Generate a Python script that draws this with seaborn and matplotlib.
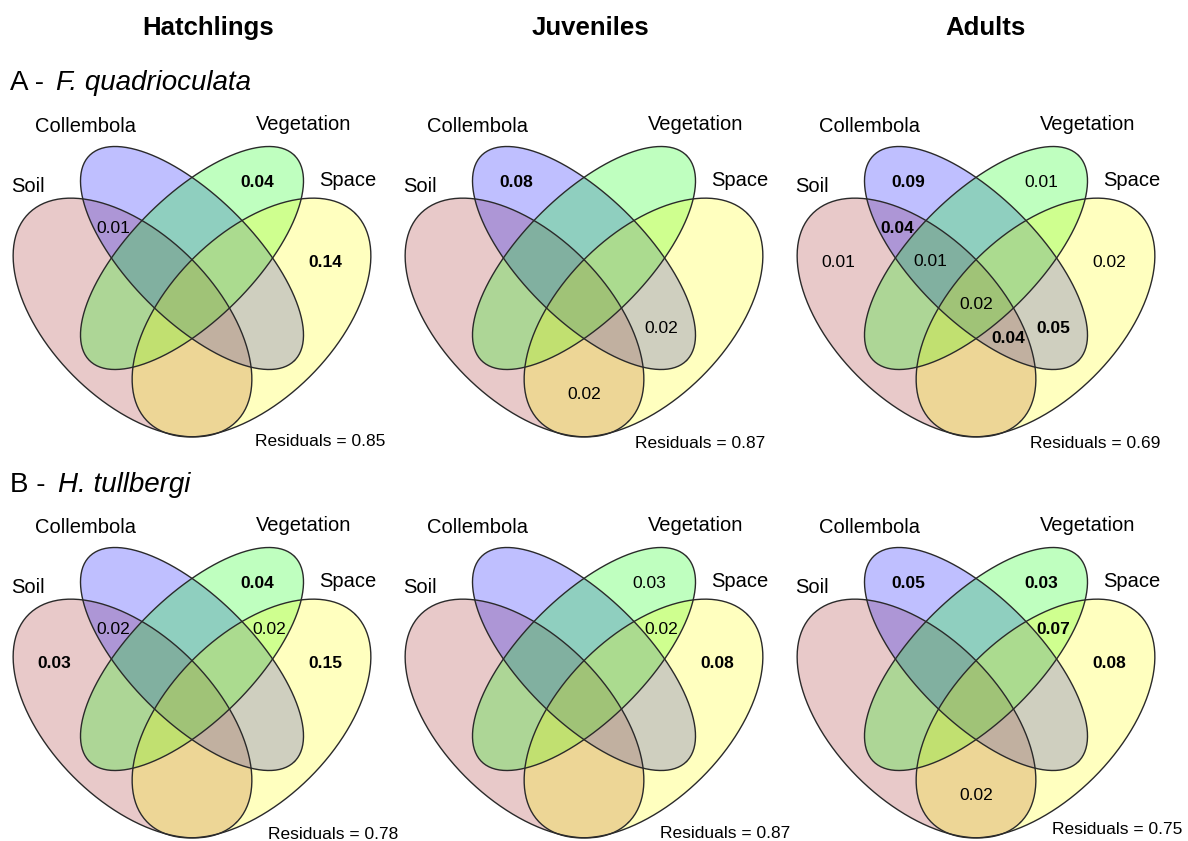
import numpy as np
import pandas as pd
import matplotlib
matplotlib.use("Agg")
import matplotlib.pyplot as plt
import seaborn as sns

# ---------------------------------------------------------------- data
age_groups = ["Hatchlings", "Juveniles", "Adults"]
row_tags = ["A", "B"]
species = ["F. quadrioculata", "H. tullbergi"]

set_names = ["Soil", "Collembola", "Vegetation", "Space"]
set_colors = ["#A52A2A", "#0000FF", "#00FF00", "#FFFF00"]

# variation-partitioning fractions, in a fixed order
fractions = ["Soil", "Collembola", "Vegetation", "Space",
             "Soil+Collembola", "Vegetation+Space",
             "Soil+Collembola+Vegetation", "Soil+Collembola+Vegetation+Space",
             "Collembola+Space", "Soil+Collembola+Space", "Soil+Space"]

# adjusted R2 of each fraction (None = not displayed); *_sig marks significant ones (bold)
fq_hatchlings = [None, None, 0.04, 0.14, 0.01, None, None, None, None, None, None]
fq_hatchlings_sig = [0, 0, 1, 1, 0, 0, 0, 0, 0, 0, 0]
fq_juveniles = [None, 0.08, None, None, None, None, None, None, 0.02, None, 0.02]
fq_juveniles_sig = [0, 1, 0, 0, 0, 0, 0, 0, 0, 0, 0]
fq_adults = [0.01, 0.09, 0.01, 0.02, 0.04, None, 0.01, 0.02, 0.05, 0.04, None]
fq_adults_sig = [0, 1, 0, 0, 1, 0, 0, 0, 1, 1, 0]

ht_hatchlings = [0.03, None, 0.04, 0.15, 0.02, 0.02, None, None, None, None, None]
ht_hatchlings_sig = [1, 0, 1, 1, 0, 0, 0, 0, 0, 0, 0]
ht_juveniles = [None, None, 0.03, 0.08, None, 0.02, None, None, None, None, None]
ht_juveniles_sig = [0, 0, 0, 1, 0, 0, 0, 0, 0, 0, 0]
ht_adults = [None, 0.05, 0.03, 0.08, None, 0.07, None, None, None, None, 0.02]
ht_adults_sig = [0, 1, 1, 1, 0, 1, 0, 0, 0, 0, 0]

residuals_fq = [0.85, 0.87, 0.69]
residuals_ht = [0.78, 0.87, 0.75]

panel_values = [[fq_hatchlings, fq_juveniles, fq_adults],
                [ht_hatchlings, ht_juveniles, ht_adults]]
panel_sig = [[fq_hatchlings_sig, fq_juveniles_sig, fq_adults_sig],
             [ht_hatchlings_sig, ht_juveniles_sig, ht_adults_sig]]
panel_resid = [residuals_fq, residuals_ht]

# ---------------------------------------------------------------- layout
FONT = "Liberation Sans"
sns.set_theme(style="white")
plt.rcParams["font.family"] = [FONT, "DejaVu Sans"]

W, H = 1188, 841
fig = plt.figure(figsize=(W / 100, H / 100), dpi=100)
ax = fig.add_axes([0, 0, 1, 1])

col_off = [0, 392, 784]
row_off = [0, 401]
axis_x = 192.0

# ellipse geometry in panel coordinates: (cx, cy, semi-major, semi-minor, angle)
ellipses = {
    "Soil":       (axis_x - 59.5, 317.5, 147.0, 83.0, 45.0),
    "Collembola": (axis_x, 258.0, 145.0, 62.0, 45.0),
    "Vegetation": (axis_x, 258.0, 145.0, 62.0, -45.0),
    "Space":      (axis_x + 59.5, 317.5, 147.0, 83.0, -45.0),
}

# where each fraction's value is written
frac_pos = {
    "Soil": (54, 261), "Collembola": (124, 181), "Vegetation": (257, 181),
    "Space": (325, 261), "Soil+Collembola": (113, 227),
    "Vegetation+Space": (269, 227), "Soil+Collembola+Vegetation": (146, 260),
    "Soil+Collembola+Vegetation+Space": (192, 303), "Collembola+Space": (269, 327),
    "Soil+Collembola+Space": (224, 337), "Soil+Space": (192, 393),
}

set_label_pos = {"Soil": (28, 192), "Collembola": (86, 132),
                 "Vegetation": (304, 130), "Space": (348, 186)}

# right edge / baseline of the residual text in each panel
resid_pos = [[(385, 446), (373, 448), (376, 448)],
             [(398, 438), (398, 437), (398, 433)]]


def ellipse_xy(cx, cy, a, b, ang, n=240):
    t = np.linspace(0, 2 * np.pi, n)
    p = np.deg2rad(ang)
    x = cx + a * np.cos(t) * np.cos(p) - b * np.sin(t) * np.sin(p)
    y = cy + a * np.cos(t) * np.sin(p) + b * np.sin(t) * np.cos(p)
    return x, y


for r in range(2):
    for c in range(3):
        ox, oy = col_off[c], row_off[r]
        outlines = []
        for name, col in zip(set_names, set_colors):
            cx, cy, a, b, ang = ellipses[name]
            x, y = ellipse_xy(cx + ox, cy + oy, a, b, ang)
            ax.fill(x, y, color=col, alpha=0.25, lw=0, zorder=1)
            outlines.append(pd.DataFrame({"x": x, "y": y, "set": name}))
        for df in outlines:
            sns.lineplot(data=df, x="x", y="y", sort=False, estimator=None,
                         color="#2a2a2a", linewidth=1.0, ax=ax, zorder=3,
                         legend=False)

        for name in set_names:
            lx, ly = set_label_pos[name]
            ax.text(lx + ox, ly + oy, name, ha="center", va="baseline",
                    fontsize=14.5, color="black", zorder=5)

        vals = panel_values[r][c]
        sig = panel_sig[r][c]
        for frac, v, s in zip(fractions, vals, sig):
            if v is None:
                continue
            fx, fy = frac_pos[frac]
            ax.text(fx + ox, fy + oy + 6, f"{v:.2f}", ha="center", va="baseline",
                    fontsize=12.5, fontweight="bold" if s else "normal",
                    color="black", zorder=5)

        rx, ry = resid_pos[r][c]
        ax.text(rx + ox, ry + oy, f"Residuals = {panel_resid[r][c]:.2f}",
                ha="right", va="baseline", fontsize=12.5, color="black", zorder=5)

ax.set_xlim(0, W)
ax.set_ylim(H, 0)
ax.set_axis_off()

# column titles
title_x = [208, 590, 985]
for tx, g in zip(title_x, age_groups):
    ax.text(tx, 35, g, ha="center", va="baseline", fontsize=18.5,
            fontweight="bold", color="black")

# row labels: tag in roman, species name in italics
renderer = fig.canvas.get_renderer()
for tag, sp, by in zip(row_tags, species, [90, 492]):
    t0 = ax.text(10, by, f"{tag} -", ha="left", va="baseline", fontsize=20,
                 color="black")
    bb = t0.get_window_extent(renderer=renderer)
    x_next = ax.transData.inverted().transform((bb.x1, 0))[0]
    ax.text(x_next + 12, by, sp, ha="left", va="baseline", fontsize=20,
            style="italic", color="black")

fig.savefig("out.png", dpi=100, facecolor="white")
